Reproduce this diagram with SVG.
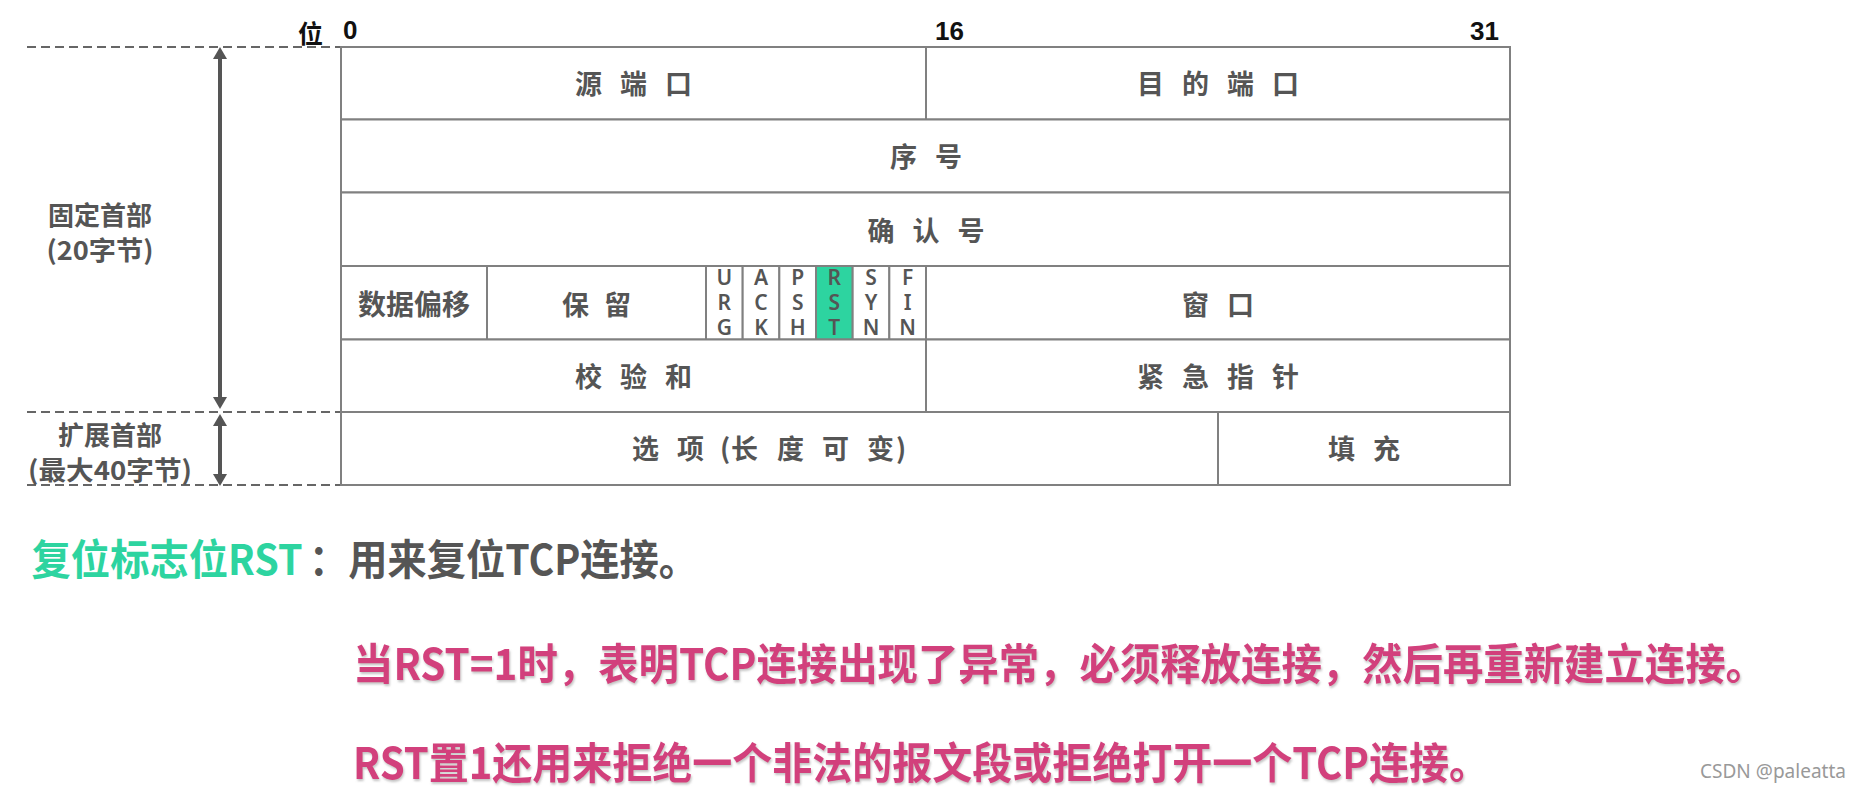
<svg xmlns="http://www.w3.org/2000/svg" width="1862" height="793" viewBox="0 0 1862 793">
<defs>
<style>
.cell{fill:#fff;stroke:#808080;stroke-width:2}
.rst{fill:#2dd4a0;stroke:#808080;stroke-width:2}
.t{font-family:"Noto Sans CJK SC","Noto Sans",sans-serif;font-weight:700;font-size:27px;fill:#555;text-anchor:middle}
.sp{letter-spacing:18px}
.flag{font-family:"Noto Sans","Open Sans",sans-serif;font-weight:600;font-size:21px;fill:#555;text-anchor:middle}
.hdr{font-family:"Liberation Sans",sans-serif;font-weight:700;font-size:26px;fill:#111}
.hcj{font-family:"Noto Sans CJK SC",sans-serif;font-weight:700;font-size:25px;fill:#111}
.side{font-family:"Noto Sans CJK SC",sans-serif;font-weight:700;font-size:26px;fill:#555;text-anchor:middle}
.dash{stroke:#666;stroke-width:2;stroke-dasharray:9 5;fill:none}
.arrow{stroke:#555;stroke-width:4;fill:none;marker-start:url(#ah);marker-end:url(#ah)}
.big{font-family:"Noto Sans CJK SC",sans-serif;font-weight:700;font-size:43px}
.ttl{font-size:42px}
.green{fill:#2dd4a0}
.gray{fill:#555}
.pink{fill:#d23f7c;filter:url(#sh)}
.wm{font-family:"Noto Sans","Liberation Sans",sans-serif;font-size:20px;fill:#999}
</style>
<marker id="ah" viewBox="0 0 12 14" refX="2" refY="7" markerWidth="12" markerHeight="14" markerUnits="userSpaceOnUse" orient="auto-start-reverse">
<path d="M0,0 L12,7 L0,14 z" fill="#555"/>
</marker>
<filter id="sh" filterUnits="userSpaceOnUse" x="0" y="600" width="1862" height="193">
<feDropShadow dx="1" dy="2" stdDeviation="1.2" flood-color="#888" flood-opacity="0.5"/>
</filter>
</defs>
<rect width="1862" height="793" fill="#fff"/>

<g id="header">
<text class="hcj" x="298" y="43">位</text>
<text class="hdr" x="343" y="39">0</text>
<text class="hdr" x="935" y="40">16</text>
<text class="hdr" x="1470" y="40">31</text>
</g>

<g id="connectors">
<line class="dash" x1="27" y1="47" x2="341" y2="47"/>
<line class="dash" x1="27" y1="412" x2="341" y2="412"/>
<line class="dash" x1="27" y1="485" x2="341" y2="485"/>
<line class="arrow" x1="220" y1="57" x2="220" y2="399"/>
<line class="arrow" x1="220" y1="424" x2="220" y2="476"/>
</g>

<g id="fixed-header-label">
<text class="side" x="100" y="225">固定首部</text>
<text class="side" x="100" y="260" textLength="107" lengthAdjust="spacingAndGlyphs">(20字节)</text>
</g>
<g id="ext-header-label">
<text class="side" x="110" y="445">扩展首部</text>
<text class="side" x="110" y="480" textLength="164" lengthAdjust="spacingAndGlyphs">(最大40字节)</text>
</g>

<g id="src-port"><rect class="cell" x="341" y="47" width="585" height="72.5"/><text class="t sp" x="642.5" y="94">源端口</text></g>
<g id="dst-port"><rect class="cell" x="926" y="47" width="584" height="72.5"/><text class="t sp" x="1227" y="94">目的端口</text></g>
<g id="seq"><rect class="cell" x="341" y="119.5" width="1169" height="73"/><text class="t sp" x="935" y="167">序号</text></g>
<g id="ack"><rect class="cell" x="341" y="192.5" width="1169" height="73.5"/><text class="t sp" x="935" y="240.5">确认号</text></g>
<g id="data-offset"><rect class="cell" x="341" y="266" width="146" height="73.5"/><text class="t" x="414" y="314.5" style="font-size:28px">数据偏移</text></g>
<g id="reserved"><rect class="cell" x="487" y="266" width="219" height="73.5"/><text class="t" x="604" y="314.5" style="letter-spacing:15px">保留</text></g>
<g id="flag-urg"><rect class="cell" x="706" y="266" width="36.67" height="73.5"/><text class="flag" x="724.3" y="285">U</text><text class="flag" x="724.3" y="310">R</text><text class="flag" x="724.3" y="335">G</text></g>
<g id="flag-ack"><rect class="cell" x="742.67" y="266" width="36.67" height="73.5"/><text class="flag" x="761" y="285">A</text><text class="flag" x="761" y="310">C</text><text class="flag" x="761" y="335">K</text></g>
<g id="flag-psh"><rect class="cell" x="779.33" y="266" width="36.67" height="73.5"/><text class="flag" x="797.7" y="285">P</text><text class="flag" x="797.7" y="310">S</text><text class="flag" x="797.7" y="335">H</text></g>
<g id="flag-rst"><rect class="rst" x="816" y="266" width="36.67" height="73.5"/><text class="flag" x="834.3" y="285">R</text><text class="flag" x="834.3" y="310">S</text><text class="flag" x="834.3" y="335">T</text></g>
<g id="flag-syn"><rect class="cell" x="852.67" y="266" width="36.67" height="73.5"/><text class="flag" x="871" y="285">S</text><text class="flag" x="871" y="310">Y</text><text class="flag" x="871" y="335">N</text></g>
<g id="flag-fin"><rect class="cell" x="889.33" y="266" width="36.67" height="73.5"/><text class="flag" x="907.7" y="285">F</text><text class="flag" x="907.7" y="310">I</text><text class="flag" x="907.7" y="335">N</text></g>
<g id="window"><rect class="cell" x="926" y="266" width="584" height="73.5"/><text class="t sp" x="1227" y="314.5">窗口</text></g>
<g id="checksum"><rect class="cell" x="341" y="339.5" width="585" height="72.5"/><text class="t sp" x="642.5" y="387">校验和</text></g>
<g id="urgent-pointer"><rect class="cell" x="926" y="339.5" width="584" height="72.5"/><text class="t sp" x="1227" y="387">紧急指针</text></g>
<g id="options"><rect class="cell" x="341" y="412" width="877" height="73"/><text class="t" style="text-anchor:start" x="632 677 720 731 777 822 867 896" y="458.5">选项(长度可变)</text></g>
<g id="padding"><rect class="cell" x="1218" y="412" width="292" height="73"/><text class="t sp" x="1373" y="458.5">填充</text></g>

<g id="rst-title">
<text class="big ttl green" x="31.5" y="575" textLength="271" lengthAdjust="spacingAndGlyphs">复位标志位RST</text>
<text class="big ttl gray" x="309" y="575" textLength="389" lengthAdjust="spacingAndGlyphs">：用来复位TCP连接。</text>
</g>
<g id="rst-note-1">
<text class="big pink" x="353" y="680" textLength="1413" lengthAdjust="spacingAndGlyphs">当RST=1时，表明TCP连接出现了异常，必须释放连接，然后再重新建立连接。</text>
</g>
<g id="rst-note-2">
<text class="big pink" x="353" y="779" textLength="1136" lengthAdjust="spacingAndGlyphs">RST置1还用来拒绝一个非法的报文段或拒绝打开一个TCP连接。</text>
</g>
<text class="wm" x="1700" y="778" textLength="146" lengthAdjust="spacingAndGlyphs">CSDN @paleatta</text>
</svg>
